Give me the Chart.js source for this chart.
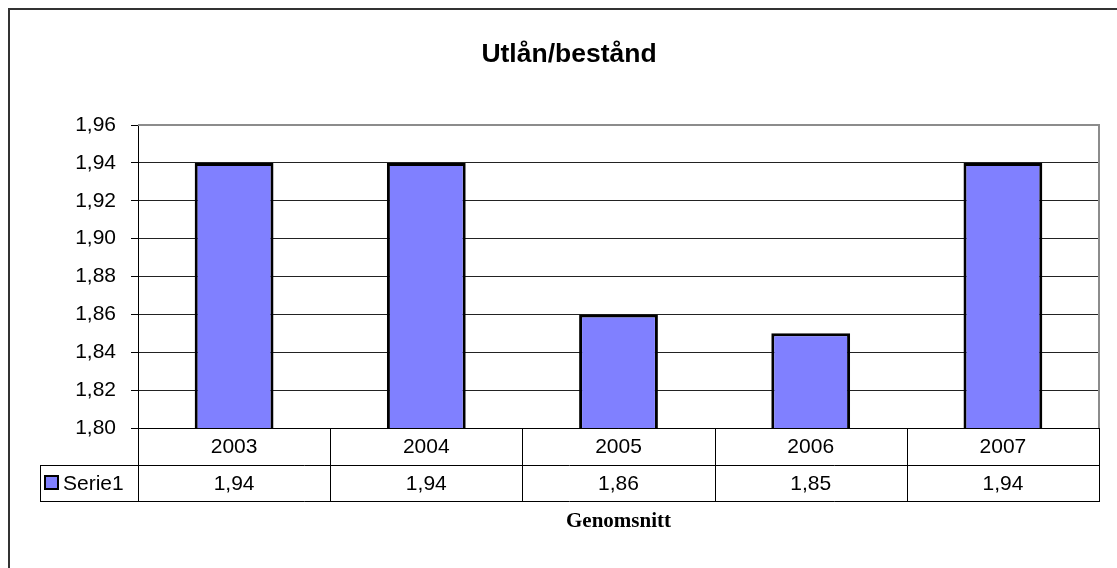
<!DOCTYPE html>
<html>
<head>
<meta charset="utf-8">
<title>Utlån/bestånd</title>
<script src="https://cdn.jsdelivr.net/npm/chart.js@4/dist/chart.umd.min.js"></script>
<style>
    body { margin: 0; background: #fff; }
    canvas { display: block; }
</style>
</head>
<body>
<canvas id="chart" width="1117" height="568"></canvas>
<script>
// Data
const years = ['2003', '2004', '2005', '2006', '2007'];
const serie1 = [1.94, 1.94, 1.86, 1.85, 1.94];
const seriesName = 'Serie1';
const yMin = 1.80;
const yMax = 1.96;
const yStep = 0.02;
const chartTitle = 'Utlån/bestånd';
const tableTitle = 'Genomsnitt';

const barColor = '#8080ff';
const sans = '"Liberation Sans", Arial, sans-serif';
const serif = '"Liberation Serif", "Times New Roman", serif';

// cisla s desetinnou carkou
const fmt = v => v.toFixed(2).replace('.', ',');

// Ramecek, titulek, plot border a datova tabulka
const excelPlugin = {
    id: 'excelTable',
    afterDraw(chart) {
        const ctx = chart.ctx;
        const area = chart.chartArea;
        const x = chart.scales.x;
        const n = years.length;
        const colW = (area.right - area.left) / n;
        const row1Bottom = area.bottom + 37;
        const row2Bottom = row1Bottom + 36;
        const legendLeft = 40;

        ctx.save();

        // vnejsi ramecek
        ctx.strokeStyle = '#333';
        ctx.lineWidth = 2;
        ctx.beginPath();
        ctx.moveTo(9, 600);
        ctx.lineTo(9, 9);
        ctx.lineTo(1200, 9);
        ctx.stroke();

        // titulek
        ctx.fillStyle = '#000';
        ctx.font = 'bold 26.5px ' + sans;
        ctx.textAlign = 'center';
        ctx.textBaseline = 'alphabetic';
        ctx.fillText(chartTitle, 569, 62);

        // seda hranice plochy grafu
        ctx.strokeStyle = '#8c8c8c';
        ctx.lineWidth = 2;
        ctx.beginPath();
        ctx.moveTo(area.left, area.top);
        ctx.lineTo(area.right, area.top);
        ctx.lineTo(area.right, area.bottom);
        ctx.stroke();

        // tabulka - linky
        ctx.strokeStyle = '#000';
        ctx.lineWidth = 1;
        ctx.beginPath();
        ctx.moveTo(area.left, area.bottom + 0.5);
        ctx.lineTo(area.right, area.bottom + 0.5);
        ctx.moveTo(legendLeft, row1Bottom + 0.5);
        ctx.lineTo(area.right, row1Bottom + 0.5);
        ctx.moveTo(legendLeft, row2Bottom + 0.5);
        ctx.lineTo(area.right, row2Bottom + 0.5);
        for (let i = 0; i <= n; i++) {
            const px = Math.round(x.getPixelForValue(i) - colW / 2) + 0.5;
            ctx.moveTo(px, area.bottom);
            ctx.lineTo(px, row2Bottom + 1);
        }
        ctx.moveTo(legendLeft + 0.5, row1Bottom);
        ctx.lineTo(legendLeft + 0.5, row2Bottom + 1);
        ctx.stroke();

        // tabulka - texty
        ctx.font = '21px ' + sans;
        ctx.textAlign = 'center';
        ctx.textBaseline = 'middle';
        years.forEach((year, i) => {
            const cx = x.getPixelForValue(i);
            ctx.fillText(year, cx, (area.bottom + row1Bottom) / 2 + 1);
            ctx.fillText(fmt(serie1[i]), cx, (row1Bottom + row2Bottom) / 2 + 1);
        });

        // legenda v tabulce
        const sy = (row1Bottom + row2Bottom) / 2 - 7;
        ctx.fillStyle = barColor;
        ctx.fillRect(45, sy, 13, 13);
        ctx.strokeStyle = '#000';
        ctx.lineWidth = 2;
        ctx.strokeRect(45, sy, 13, 13);
        ctx.fillStyle = '#000';
        ctx.textAlign = 'left';
        ctx.fillText(seriesName, 63, (row1Bottom + row2Bottom) / 2 + 1);

        // popisek pod tabulkou
        ctx.font = 'bold 21px ' + serif;
        ctx.textAlign = 'center';
        ctx.textBaseline = 'alphabetic';
        ctx.fillText(tableTitle, (area.left + area.right) / 2, 527);

        ctx.restore();
    }
};

new Chart(document.getElementById('chart'), {
    type: 'bar',
    data: {
        labels: years,
        datasets: [{
            label: seriesName,
            data: serie1,
            backgroundColor: barColor,
            borderColor: '#000',
            borderWidth: 3,
            barPercentage: 0.41,
            categoryPercentage: 1
        }]
    },
    options: {
        responsive: false,
        animation: false,
        devicePixelRatio: 1,
        layout: {
            padding: { left: 0, top: 125, right: 18, bottom: 140 }
        },
        plugins: {
            legend: { display: false },
            tooltip: { enabled: false }
        },
        scales: {
            x: {
                display: false
            },
            y: {
                min: yMin,
                max: yMax,
                afterFit: scale => { scale.width = 138; },
                ticks: {
                    stepSize: yStep,
                    color: '#000',
                    padding: 15,
                    font: { family: sans, size: 21 },
                    callback: v => fmt(v)
                },
                grid: {
                    color: c => (c.tick && Math.abs(c.tick.value - yMax) < 1e-6) ? 'rgba(0,0,0,0)' : '#222',
                    tickColor: '#000',
                    tickLength: 7,
                    lineWidth: 1
                },
                border: { color: '#000', width: 1 }
            }
        }
    },
    plugins: [excelPlugin]
});
</script>
</body>
</html>
